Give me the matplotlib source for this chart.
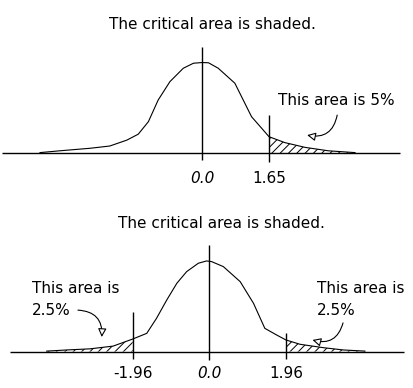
import numpy as np
import matplotlib
matplotlib.use('Agg')
import matplotlib.pyplot as plt

plt.rcParams['font.family'] = 'DejaVu Sans'
plt.rcParams['hatch.linewidth'] = 0.7

# curve (z, height)
z_top = [-3.99, -3.50, -2.76, -2.27, -1.85, -1.57, -1.32, -1.08, -0.79, -0.46,
         -0.21, 0.0, 0.16, 0.40, 0.81, 1.22, 1.47, 1.65, 2.04, 2.54, 3.11, 3.77]
h_top = [0.003, 0.011, 0.022, 0.032, 0.058, 0.084, 0.139, 0.234, 0.315, 0.374,
         0.396, 0.399, 0.398, 0.374, 0.308, 0.161, 0.110, 0.073, 0.047, 0.026, 0.011, 0.003]

z_bot = [-4.16, -3.65, -3.05, -2.46, -1.96, -1.60, -1.35, -1.09, -0.83, -0.58,
         -0.28, -0.07, 0.06, 0.36, 0.79, 1.13, 1.42, 1.72, 1.96, 2.32, 2.92, 3.43, 3.98]
h_bot = [0.002, 0.007, 0.012, 0.024, 0.055, 0.080, 0.146, 0.226, 0.300, 0.351,
         0.388, 0.398, 0.395, 0.373, 0.307, 0.212, 0.102, 0.073, 0.051, 0.032, 0.017, 0.007, 0.002]

crit_top = 1.65
crit_bot = 1.96
title = 'The critical area is shaded.'
fs = 11

fig = plt.figure(figsize=(4.14, 3.88), dpi=100)
fig.patch.set_facecolor('white')

ax1 = fig.add_axes([0, 0.5, 1, 0.5])
ax2 = fig.add_axes([0, 0, 1, 0.5])
for ax in (ax1, ax2):
    ax.axis('off')

# ---- top panel: one tailed ----
zt = np.array(z_top)
ht = np.array(h_top)
ax1.set_xlim(-4.975, 5.222)
ax1.set_ylim(-0.179, 0.674)
ax1.plot(zt, ht, color='black', lw=0.8)
ax1.hlines(0, -4.93, 4.88, color='black', lw=1.0)
ax1.vlines(0, -0.029, 0.469, color='black', lw=1.0)
ax1.vlines(crit_top, -0.037, 0.168, color='black', lw=1.0)
m = zt >= crit_top
ax1.fill_between(zt[m], 0, ht[m], facecolor='white', edgecolor='black',
                 hatch='////', linewidth=0)
ax1.text(0, -0.109, '0.0', ha='center', va='center', fontsize=fs, style='italic')
ax1.text(crit_top, -0.109, '%.2f' % crit_top, ha='center', va='center', fontsize=fs)
ax1.text(1.87, 0.234, 'This area is 5%', ha='left', va='center', fontsize=fs)
ax1.annotate('', xy=(2.59, 0.080), xytext=(3.33, 0.168),
             arrowprops=dict(arrowstyle='-|>,head_length=0.5,head_width=0.25',
                             fc='white', ec='black', lw=0.8,
                             connectionstyle='arc3,rad=-0.5',
                             shrinkA=0, shrinkB=0))
fig.text(0.514, 0.936, title, ha='center', va='center', fontsize=fs)

# ---- bottom panel: two tailed ----
zb = np.array(z_bot)
hb = np.array(h_bot)
ax2.set_xlim(-5.353, 5.235)
ax2.set_ylim(-0.160, 0.692)
ax2.plot(zb, hb, color='black', lw=0.8)
ax2.hlines(0, -5.10, 4.99, color='black', lw=1.0)
ax2.vlines(0, -0.037, 0.468, color='black', lw=1.0)
ax2.vlines(-crit_bot, -0.033, 0.175, color='black', lw=1.0)
ax2.vlines(crit_bot, -0.033, 0.080, color='black', lw=1.0)
for m in (zb <= -crit_bot, zb >= crit_bot):
    ax2.fill_between(zb[m], 0, hb[m], facecolor='white', edgecolor='black',
                     hatch='////', linewidth=0)
ax2.text(-crit_bot, -0.095, '-%.2f' % crit_bot, ha='center', va='center', fontsize=fs)
ax2.text(0, -0.095, '0.0', ha='center', va='center', fontsize=fs, style='italic')
ax2.text(crit_bot, -0.095, '%.2f' % crit_bot, ha='center', va='center', fontsize=fs)

for x in (-4.53, 2.75):
    ax2.text(x, 0.279, 'This area is', ha='left', va='center', fontsize=fs)
    ax2.text(x, 0.182, '2.5%', ha='left', va='center', fontsize=fs)

arrow = dict(arrowstyle='-|>,head_length=0.5,head_width=0.25', fc='white',
             ec='black', lw=0.8, connectionstyle='arc3,rad=-0.5',
             shrinkA=0, shrinkB=0)
ax2.annotate('', xy=(-2.75, 0.064), xytext=(-3.36, 0.182), arrowprops=arrow)
ax2.annotate('', xy=(2.64, 0.051), xytext=(3.42, 0.126), arrowprops=arrow)
fig.text(0.536, 0.425, title, ha='center', va='center', fontsize=fs)

fig.savefig('out.png', dpi=100, facecolor='white')
